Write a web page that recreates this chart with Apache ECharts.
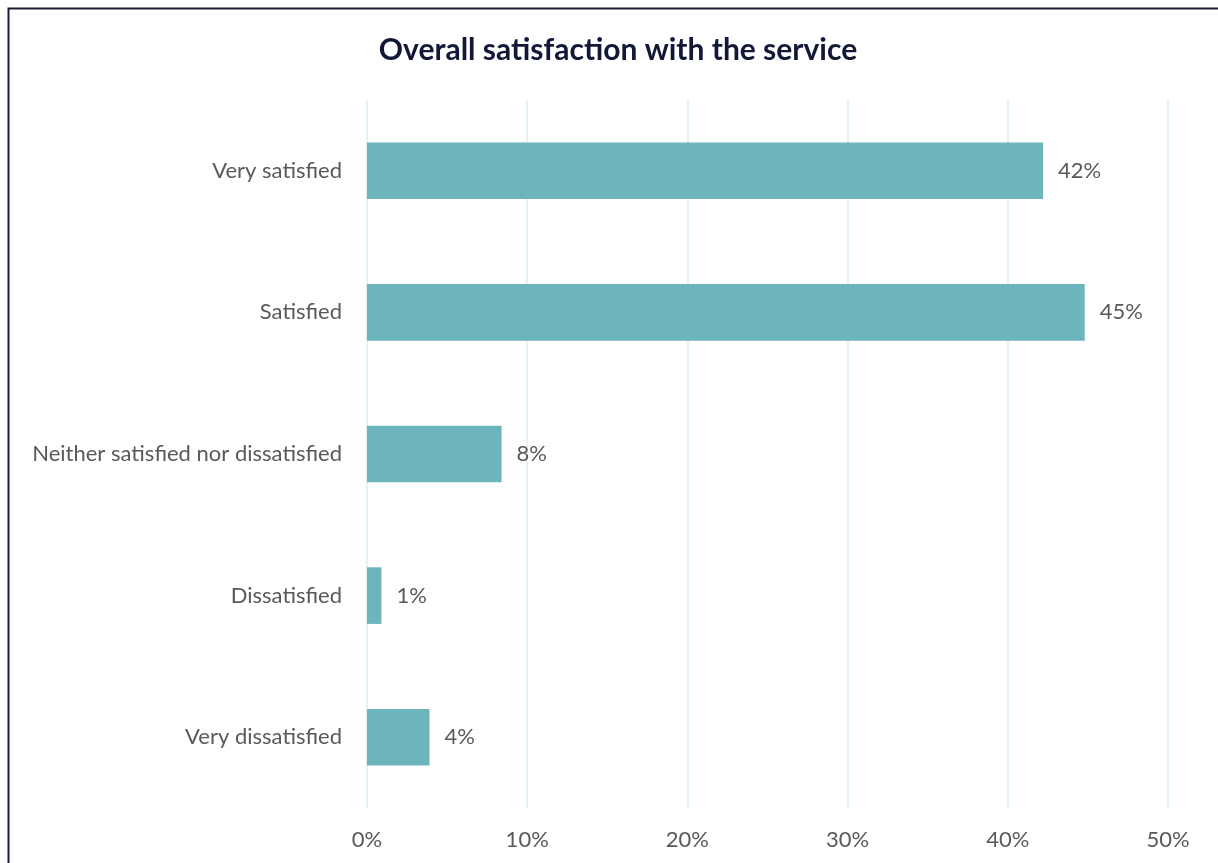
<!DOCTYPE html>
<html>
<head>
<meta charset="utf-8">
<script src="https://cdn.jsdelivr.net/npm/echarts@6/dist/echarts.min.js"></script>
<style>
html,body{margin:0;padding:0;background:#fff;}
#chart{width:1218px;height:863px;}
</style>
</head>
<body>
<div id="chart"></div>
<script>
const titleText = 'Overall satisfaction with the service';
const categories = ['Very satisfied', 'Satisfied', 'Neither satisfied nor dissatisfied', 'Dissatisfied', 'Very dissatisfied'];
const values = [42.2, 44.8, 8.4, 0.9, 3.9];
const labelTexts = ['42%', '45%', '8%', '1%', '4%'];

const chart = echarts.init(document.getElementById('chart'), null, {renderer: 'canvas'});
chart.setOption({
  animation: false,
  backgroundColor: '#ffffff',
  title: {
    text: titleText,
    left: 613, top: 30, textAlign: 'center',
    textStyle: {fontFamily: 'Lato', fontWeight: 'bold', fontSize: 30, color: '#141838'}
  },
  graphic: [{
    type: 'rect',
    shape: {x: 8.5, y: 8.5, width: 1400, height: 1000},
    style: {fill: 'none', stroke: '#1c1c35', lineWidth: 2},
    silent: true
  }],
  grid: {left: 367, right: 50, top: 100, height: 708, containLabel: false},
  xAxis: {
    type: 'value', min: 0, max: 50, interval: 10,
    axisLine: {show: false}, axisTick: {show: false},
    splitLine: {show: true, lineStyle: {color: '#e4f2f2', width: 2}},
    axisLabel: {formatter: '{value}%', fontFamily: 'Lato', fontSize: 22, color: '#595959', margin: 21}
  },
  yAxis: {
    type: 'category', data: categories, inverse: true,
    axisLine: {show: false}, axisTick: {show: false},
    axisLabel: {fontFamily: 'Lato', fontSize: 22, color: '#595959', margin: 25}
  },
  series: [{
    type: 'bar',
    data: values,
    barCategoryGap: '60%',
    itemStyle: {color: '#6db5bd'},
    label: {
      show: true, position: 'right', distance: 15,
      fontFamily: 'Lato', fontSize: 22, color: '#595959',
      formatter: p => labelTexts[p.dataIndex]
    }
  }]
});
</script>
</body>
</html>
